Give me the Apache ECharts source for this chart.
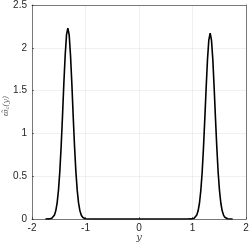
<!DOCTYPE html>
<html><head><meta charset="utf-8">
<script src="https://cdn.jsdelivr.net/npm/echarts@6/dist/echarts.min.js"></script>
<style>html,body{margin:0;padding:0;background:#fff}#c{width:249px;height:247px}</style>
</head><body><div id="c"></div>
<script>
const xValues = [-1.75,-1.68,-1.655,-1.63,-1.605,-1.58,-1.555,-1.53,-1.505,-1.48,-1.455,-1.43,-1.405,-1.38,-1.355,-1.33,-1.305,-1.28,-1.255,-1.23,-1.205,-1.18,-1.155,-1.13,-1.105,-1.08,-1.055,-1.03,-1.005,-0.98,-0.9,
  0.9,0.98,1.005,1.03,1.055,1.08,1.105,1.13,1.155,1.18,1.205,1.23,1.255,1.28,1.305,1.33,1.355,1.38,1.405,1.43,1.455,1.48,1.505,1.53,1.555,1.58,1.605,1.63,1.655,1.68,1.75];
const yValues = [0,0.001,0.003,0.0086,0.021,0.047,0.098,0.189,0.337,0.556,0.85,1.20,1.58,1.91,2.15,2.23,2.15,1.91,1.58,1.20,0.85,0.556,0.337,0.189,0.098,0.047,0.021,0.0086,0.003,0.001,0,
  0,0.001,0.003,0.008,0.020,0.046,0.095,0.184,0.33,0.54,0.83,1.17,1.53,1.86,2.09,2.17,2.09,1.86,1.53,1.17,0.83,0.54,0.33,0.184,0.095,0.046,0.020,0.008,0.003,0.001,0];
const xTicks = [-2,-1,0,1,2];
const yTicks = [0,0.5,1,1.5,2,2.5];
const xLabel = 'y';
const yLabel = 'ϖ̃';

const chart = echarts.init(document.getElementById('c'), null, {renderer:'canvas'});
const font = 'Liberation Sans';
const axisCol = '#262626';
chart.setOption({
  animation:false,
  grid:{left:32,top:5,right:3,bottom:28,containLabel:false,outerBoundsMode:'none'},
  xAxis:[{type:'value',min:xTicks[0],max:xTicks[xTicks.length-1],interval:1,
    axisLine:{onZero:false,lineStyle:{color:axisCol,width:0.6}},
    axisTick:{inside:true,length:2,lineStyle:{color:axisCol,width:0.6}},
    axisLabel:{color:axisCol,fontFamily:font,fontSize:10,margin:4},
    splitLine:{show:true,lineStyle:{color:'#e6e6e6',width:0.6}},
    name:xLabel,nameLocation:'middle',nameGap:13,nameMoveOverlap:false,
    nameTextStyle:{color:'#444',fontFamily:'DejaVu Serif',fontStyle:'italic',fontSize:10}},
    {type:'value',position:'top',min:-2,max:2,interval:1,
    axisLine:{show:true,onZero:false,lineStyle:{color:axisCol,width:0.6}},axisTick:{show:false},axisLabel:{show:false},splitLine:{show:false}}],
  yAxis:[{type:'value',min:yTicks[0],max:yTicks[yTicks.length-1],interval:0.5,
    axisLine:{show:true,onZero:false,lineStyle:{color:axisCol,width:0.6}},
    axisTick:{inside:true,length:2,lineStyle:{color:axisCol,width:0.6}},
    axisLabel:{color:axisCol,fontFamily:font,fontSize:10,margin:5},
    splitLine:{show:true,lineStyle:{color:'#e6e6e6',width:0.6}},
    name:'{a|'+yLabel+'}{s|c}{a|(y)}',nameLocation:'middle',nameGap:22,nameMoveOverlap:false,
    nameTextStyle:{color:'#555',padding:[0,0,0,12],rich:{a:{fontFamily:'DejaVu Serif',fontStyle:'italic',fontSize:8,color:'#555'},s:{fontFamily:'DejaVu Serif',fontStyle:'italic',fontSize:5,color:'#555',padding:[3,0,0,0]}}}},
    {type:'value',position:'right',min:0,max:2.5,interval:0.5,
    axisLine:{show:true,onZero:false,lineStyle:{color:axisCol,width:0.6}},axisTick:{show:false},axisLabel:{show:false},splitLine:{show:false}}],
  series:[{type:'line',data:xValues.map((x,i)=>[x,yValues[i]]),showSymbol:false,
    lineStyle:{color:'#000',width:1.6},clip:true}]
});
</script></body></html>
